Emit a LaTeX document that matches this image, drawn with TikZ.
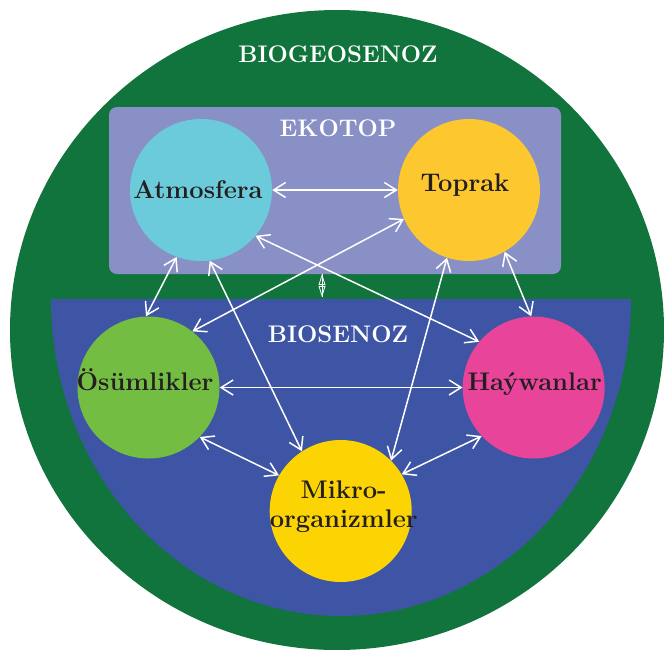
\documentclass[tikz,border=0pt]{standalone}
\usepackage{fontspec}
\usepackage{tikz}
\usetikzlibrary{arrows.meta}
\definecolor{ringgreen}{HTML}{10743C}
\definecolor{ekoblue}{HTML}{8890C6}
\definecolor{bioblue}{HTML}{3D55A4}
\definecolor{atmcol}{HTML}{6BCBDA}
\definecolor{topcol}{HTML}{FDC82F}
\definecolor{osucol}{HTML}{74BD43}
\definecolor{haycol}{HTML}{E8449A}
\definecolor{mikcol}{HTML}{FCD404}
\definecolor{txt}{HTML}{231F20}

\begin{document}
\begin{tikzpicture}[x=1pt,y=-1pt,
   >={Straight Barb[length=12pt,width=15pt]},
   sphere/.style={circle,minimum size=142pt,inner sep=0pt},
   lbl/.style={text=txt,font=\fontsize{25.5}{28.5}\selectfont\bfseries,align=center,inner sep=0pt},
   title/.style={text=white,font=\fontsize{24}{27}\selectfont\bfseries,inner sep=0pt},
   link/.style={draw=white,line width=1.5pt,<->},
   twin/.style={draw=white,line width=0.8pt,
     {Kite[open,inset=0pt,length=11pt,width=7pt]}-{Kite[open,inset=0pt,length=11pt,width=7pt]}}]
\useasboundingbox (0,0) rectangle (664,649);
\fill[ringgreen] (337,330) ellipse [x radius=327pt, y radius=320pt];
\fill[bioblue] (51,299) arc[start angle=180, end angle=360, x radius=290pt, y radius=317pt] -- cycle;
\node[fill=ekoblue,rounded corners=8pt,minimum width=452pt,minimum height=167pt,inner sep=0pt]
   (ekotop) at (335,190.5) {};

\node[title] (biogeo) at (338,54) {BIOGEOSENOZ};
\node[title] (ekolbl) at (338,128) {EKOTOP};
\node[title] (biolbl) at (338,334) {BIOSENOZ};

\node[sphere,fill=atmcol,label={[lbl,name=atmtxt,xshift=-3pt]center:Atmosfera}] (atm) at (201,190) {};
\node[sphere,fill=topcol,label={[lbl,name=toptxt,xshift=-4pt,yshift=4.5pt]center:Toprak}] (top) at (469,190) {};
\node[sphere,fill=osucol,label={[lbl,name=osutxt,xshift=-3.5pt,yshift=8pt]center:Ösümlikler}] (osu) at (148.5,387.5) {};
\node[sphere,fill=haycol,label={[lbl,name=haytxt,xshift=1pt,yshift=3pt]center:Haýwanlar}] (hay) at (533.7,387.5) {};
\node[sphere,fill=mikcol,label={[lbl,name=miktxt,xshift=3pt,yshift=4.5pt]center:Mikro-\\organizmler}] (mik) at (340.7,511) {};

\draw[link] (atm.0) -- (top.180);
\draw[link] (atm.250) -- (osu.92);
\draw[link] (atm.277) -- (mik.123);
\draw[link] (atm.320) -- (hay.140);
\draw[link] (top.204) -- (osu.52);
\draw[link] (top.252) -- (mik.45);
\draw[link] (top.300) -- (hay.92);
\draw[link] (osu.0) -- (hay.180);
\draw[link] (osu.316) -- (mik.150);
\draw[link] (mik.31) -- (hay.223);

\coordinate (ekobot) at (322,274);
\coordinate (biotop) at (322,297);
\draw[twin] (ekobot) -- (biotop);
\draw[white,line width=0.8pt] (ekobot) -- (biotop);
\end{tikzpicture}
\end{document}
